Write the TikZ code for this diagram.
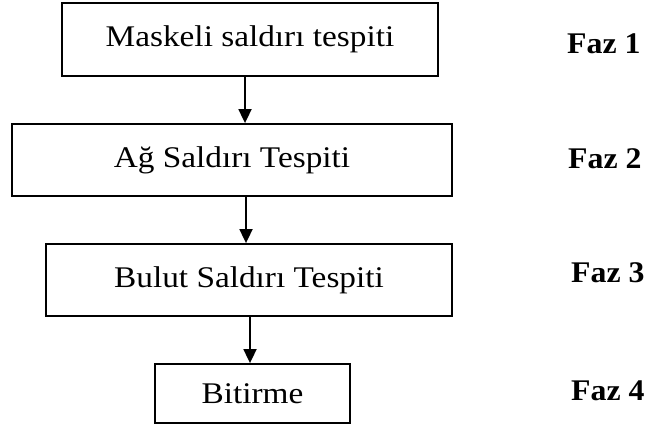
\documentclass[tikz,border=0pt]{standalone}
\usepackage{fontspec}
\setmainfont[FakeStretch=1.11]{Liberation Serif}
\newfontfamily\phasefont[FakeStretch=1.06]{Liberation Serif}
\usetikzlibrary{arrows.meta}
\begin{document}
\begin{tikzpicture}[x=1pt,y=1pt,
  stage/.style={draw, line width=1.8pt, inner sep=0pt,
    font=\fontsize{30}{35}\selectfont},
  phase/.style={anchor=base west, inner sep=0pt,
    font=\phasefont\bfseries\fontsize{30}{35}\selectfont},
  flow/.style={-{Triangle[length=14pt,width=13pt]}, line width=1.8pt}]
\useasboundingbox (0,0) rectangle (647,-427);

% stages of the process
\node[stage, minimum width=376, minimum height=73] (s1) at (250,-39.5) {Maskeli saldırı tespiti};
\node[stage, minimum width=440, minimum height=72] (s2) at (232,-160) {Ağ Saldırı Tespiti};
\node[stage, minimum width=406, minimum height=72] (s3) at (249,-280) {Bulut Saldırı Tespiti};
\node[stage, minimum width=195, minimum height=59] (s4) at (252.5,-393.5) {Bitirme};

% arrows between the stages
\coordinate (c1) at (245,0);
\coordinate (c2) at (246,0);
\coordinate (c3) at (250,0);
\draw[flow] (c1 |- s1.south) -- (c1 |- s2.north);
\draw[flow] (c2 |- s2.south) -- (c2 |- s3.north);
\draw[flow] (c3 |- s3.south) -- (c3 |- s4.north);

% phase labels
\node[phase] (f1) at (567,-54) {Faz 1};
\node[phase] (f2) at (568,-169) {Faz 2};
\node[phase] (f3) at (571,-283) {Faz 3};
\node[phase] (f4) at (571,-400) {Faz 4};
\end{tikzpicture}
\end{document}
